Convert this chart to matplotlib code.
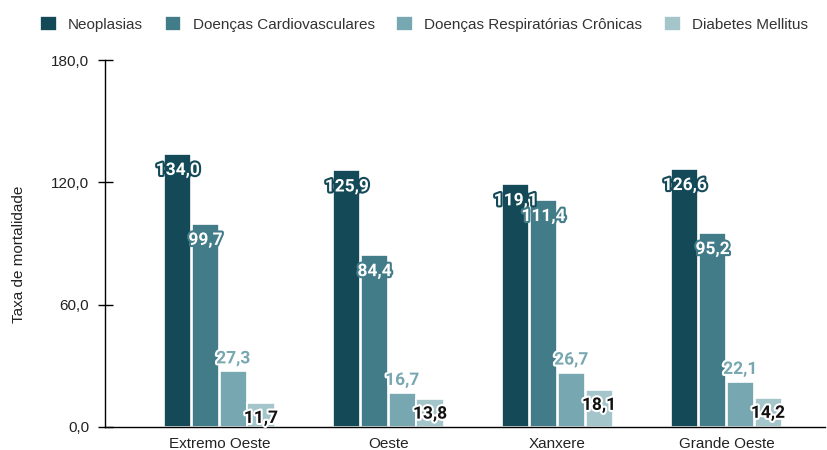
import matplotlib
matplotlib.use("Agg")
import matplotlib.pyplot as plt
import matplotlib.patheffects as pe
import numpy as np

plt.rcParams['font.family'] = ['Liberation Sans', 'DejaVu Sans']

regions = ["Extremo Oeste", "Oeste", "Xanxere", "Grande Oeste"]
series_names = ["Neoplasias", "Doenças Cardiovasculares",
                "Doenças Respiratórias Crônicas", "Diabetes Mellitus"]
neoplasias = [134.0, 125.9, 119.1, 126.6]
cardio = [99.7, 84.4, 111.4, 95.2]
respiratorias = [27.3, 16.7, 26.7, 22.1]
diabetes = [11.7, 13.8, 18.1, 14.2]
y_ticks = [0, 60, 120, 180]

colors = ["#144a58", "#437c89", "#77a7b0", "#a4c6cb"]
# label text colour, outline colour, offset (points)
label_styles = [
    ("white", colors[0], -12),
    ("white", colors[1], -12),
    (colors[2], "white", 9),
    ("#111111", "white", -11),
]

fig = plt.figure(figsize=(8.27, 4.5), dpi=100)
ax = fig.add_axes([105 / 827, 23 / 450, 720 / 827, 367 / 450])

x = np.arange(len(regions))
step = 0.164
width = 0.16
all_series = [neoplasias, cardio, respiratorias, diabetes]

for i, (name, vals) in enumerate(zip(series_names, all_series)):
    pos = x + (i - 1.5) * step
    bars = ax.bar(pos, vals, width, color=colors[i], edgecolor="white",
                  linewidth=1.2, label=name, zorder=2)
    fc, sc, off = label_styles[i]
    for b, v in zip(bars, vals):
        ax.annotate(f"{v:.1f}".replace(".", ","),
                    (b.get_x() + b.get_width() / 2, v),
                    xytext=(0, off), textcoords="offset points",
                    ha="center", va="center", fontsize=12.5,
                    fontweight="bold", family=["Roboto", "DejaVu Sans"],
                    color=fc, zorder=3,
                    path_effects=[pe.withStroke(linewidth=3, foreground=sc)])

ax.set_xlim(-0.677, 3.583)
ax.set_ylim(0, 180)
ax.set_yticks(y_ticks)
ax.set_yticklabels([f"{t:.1f}".replace(".", ",") for t in y_ticks])
ax.set_xticks(x)
ax.set_xticklabels(regions)
ax.tick_params(axis="y", direction="inout", length=10.8, width=1,
               pad=6, labelsize=11, labelcolor="#222222")
ax.tick_params(axis="x", length=0, pad=7, labelsize=11,
               labelcolor="#222222")
ax.set_ylabel("Taxa de mortalidade", fontsize=11, color="#222222")
ax.yaxis.set_label_coords(-0.110, 0.47)

for s in ["top", "right"]:
    ax.spines[s].set_visible(False)
ax.spines["left"].set_linewidth(1)
ax.spines["bottom"].set_linewidth(1)

fig.legend(loc="center", bbox_to_anchor=(424 / 827, 1 - 24 / 450), ncol=4,
           frameon=False, fontsize=11, handlelength=1.1, handleheight=1.1,
           handletextpad=0.75, columnspacing=1.4, labelcolor="#333333")

fig.savefig("out.png", dpi=100)
